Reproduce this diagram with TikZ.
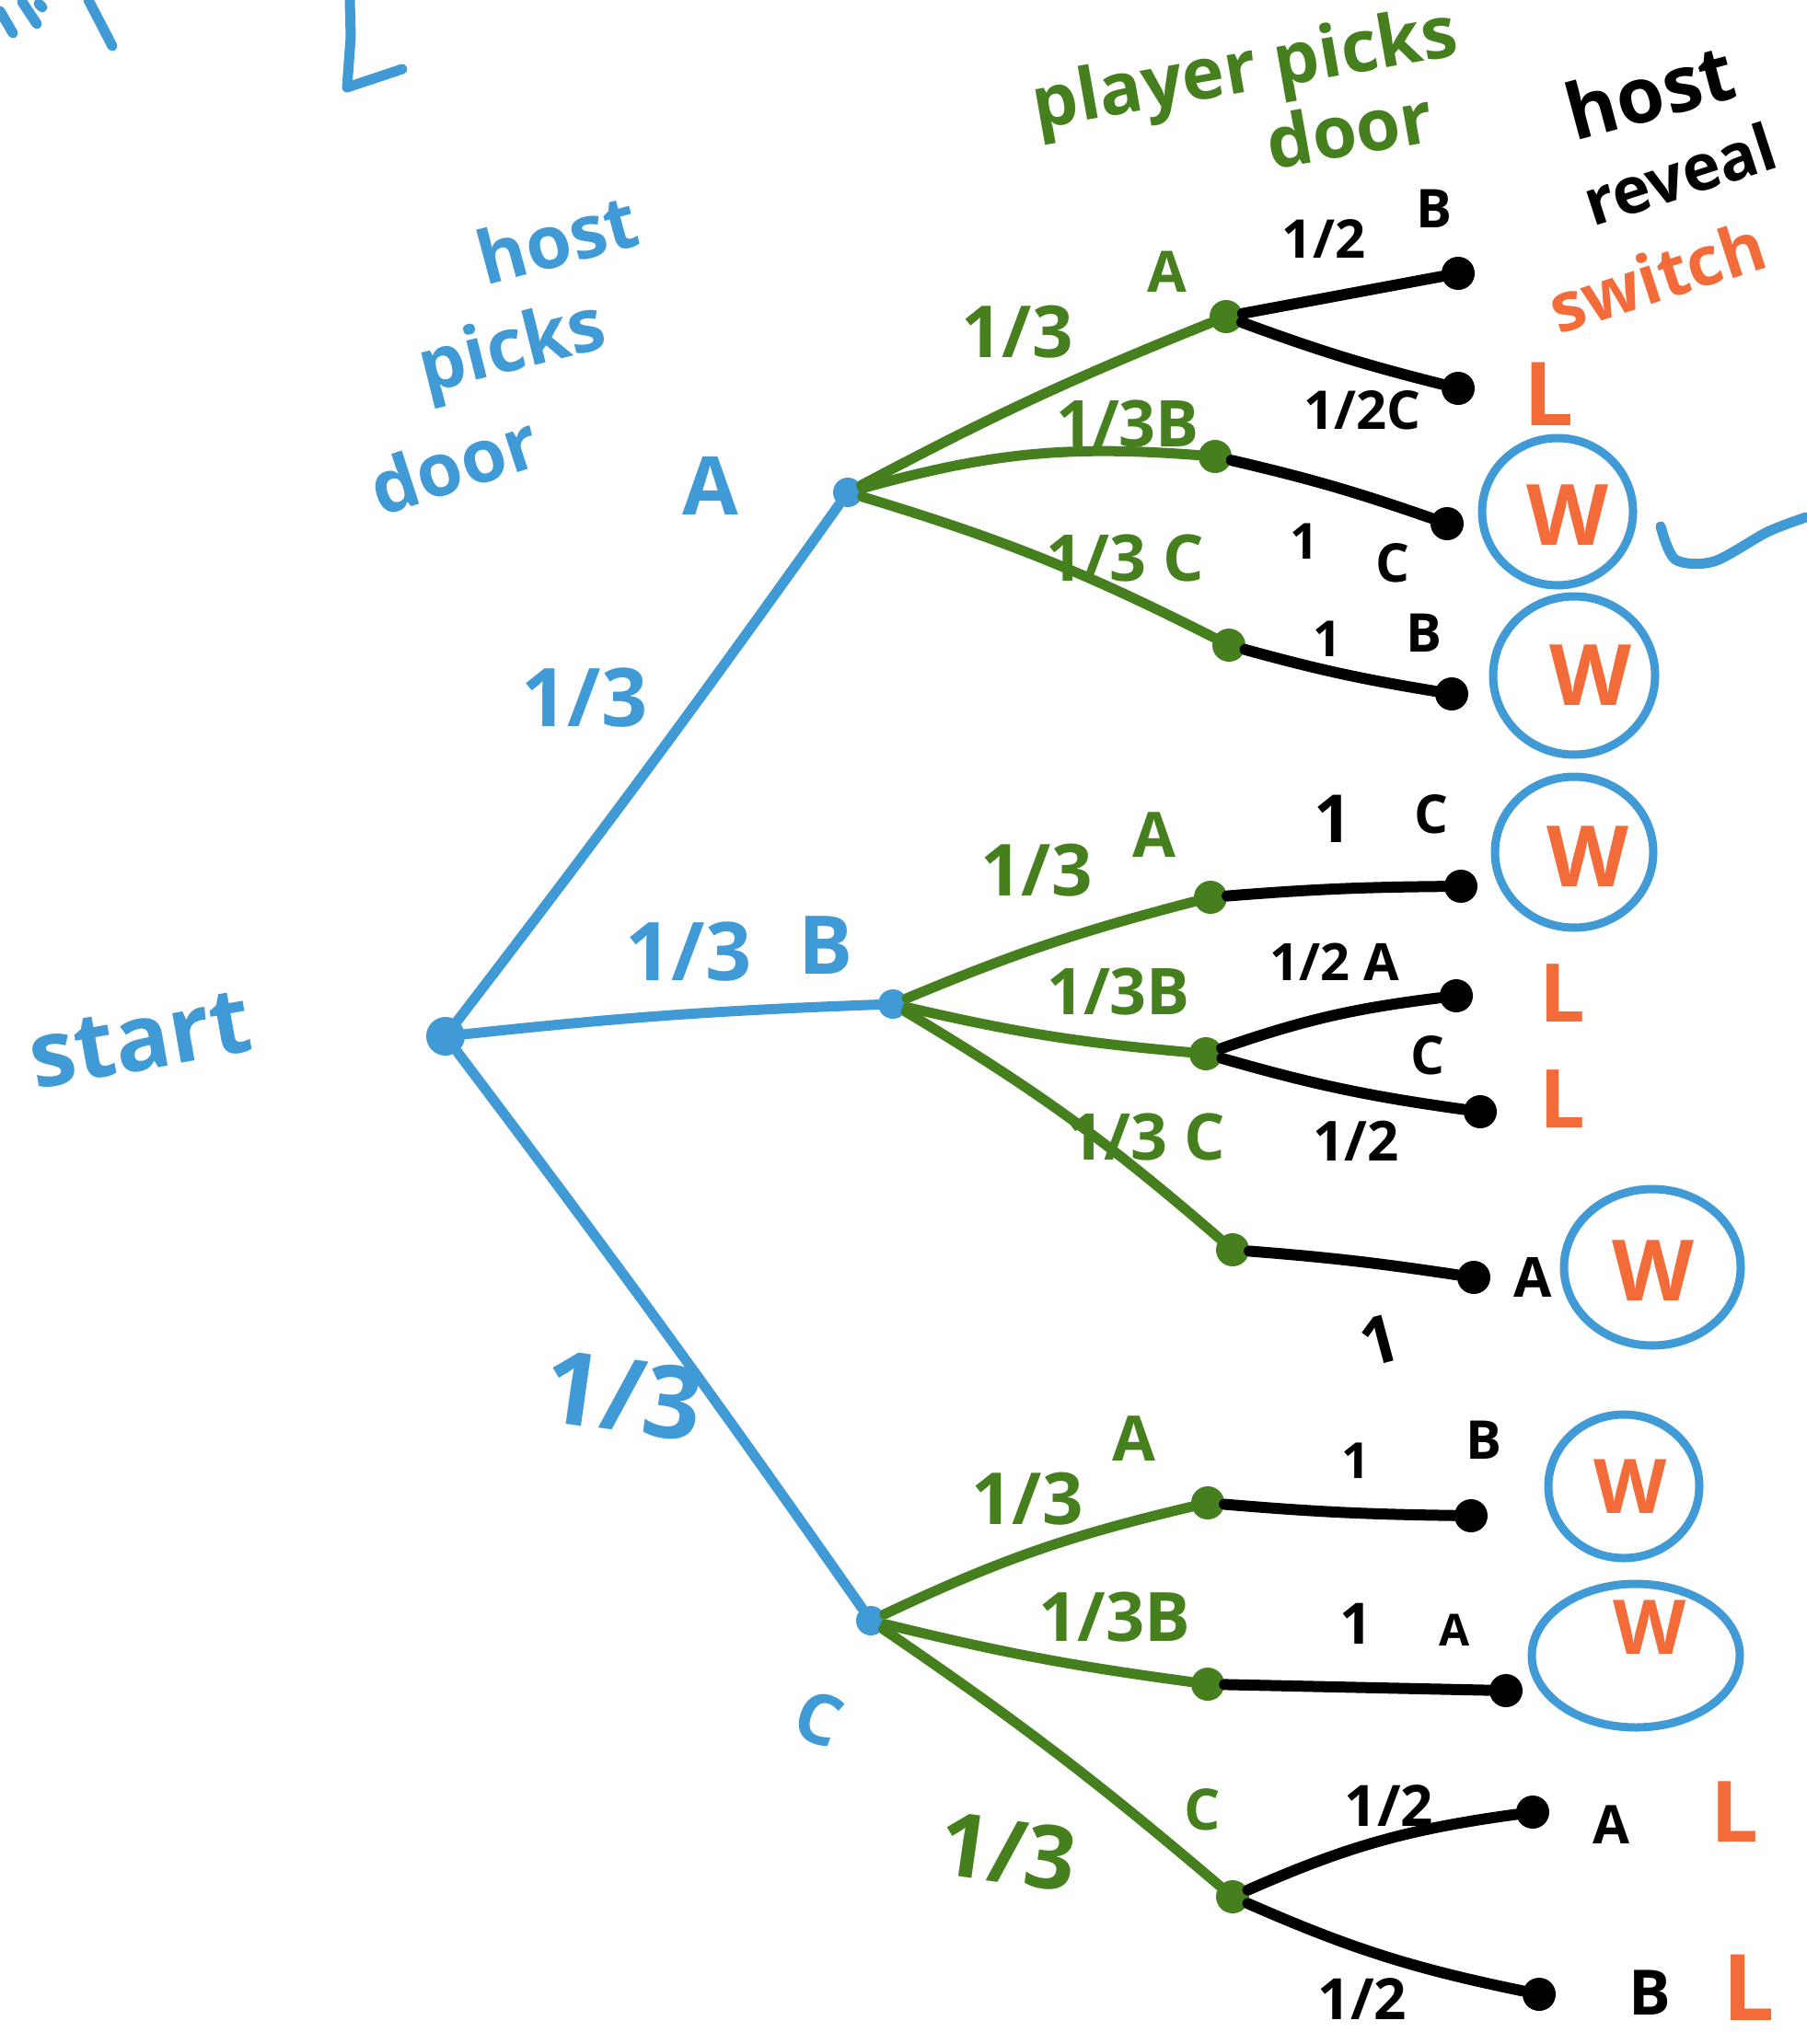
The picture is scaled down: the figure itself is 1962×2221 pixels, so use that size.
\documentclass[tikz,border=0pt]{standalone}
\usepackage{fontspec}
\newfontfamily\hand{Open Sans}
\definecolor{cblue}{HTML}{409AD6}
\definecolor{cgreen}{HTML}{467F1E}
\definecolor{corange}{HTML}{F26B38}
\tikzset{
  bl/.style={draw=cblue, line width=11pt, line cap=round, line join=round},
  gr/.style={draw=cgreen, line width=11pt, line cap=round, line join=round},
  bk/.style={draw=black, line width=12pt, line cap=round, line join=round},
  ring/.style={draw=cblue, line width=9pt},
  bdot/.style={circle, fill=cblue, inner sep=0pt, minimum size=#1},
  bdot/.default=32pt,
  gdot/.style={circle, fill=cgreen, inner sep=0pt, minimum size=36pt},
  kdot/.style={circle, fill=black, inner sep=0pt, minimum size=36pt},
  tb/.style={text=cblue, inner sep=0pt, font=\hand\bfseries\fontsize{#1}{#1}\selectfont},
  tg/.style={text=cgreen, inner sep=0pt, font=\hand\bfseries\fontsize{#1}{#1}\selectfont},
  tk/.style={text=black, inner sep=0pt, font=\hand\bfseries\fontsize{#1}{#1}\selectfont},
  to/.style={text=corange, inner sep=0pt, font=\hand\bfseries\fontsize{#1}{#1}\selectfont},
}
\begin{document}
\begin{tikzpicture}[x=1pt,y=-1pt]
\useasboundingbox (0,0) rectangle (1962,2221);
\fill[white] (0,0) rectangle (1962,2221);

% partial strokes at the top left
\draw[bl] (0,12) -- (14,36);
\draw[bl] (24,2) -- (40,26);
\draw[bl] (42,4) -- (46,8);
\draw[bl] (96,0) -- (122,50);
\draw[bl] (380,0) -- (381,40) -- (377,95) -- (437,75);

% tree nodes
\node[bdot=42pt] (s) at (484,1126) {};
\node[bdot] (hA) at (921,535) {};
\node[bdot] (hB) at (970,1091) {};
\node[bdot] (hC) at (946,1761) {};

\node[gdot] (gAA) at (1332,344) {};
\node[gdot] (gAB) at (1320,496) {};
\node[gdot] (gAC) at (1335,701) {};
\node[gdot] (gBA) at (1315,975) {};
\node[gdot] (gBB) at (1310,1145) {};
\node[gdot] (gBC) at (1339,1358) {};
\node[gdot] (gCA) at (1312,1633) {};
\node[gdot] (gCB) at (1312,1830) {};
\node[gdot] (gCC) at (1339,2061) {};

\node[kdot] (lAAB) at (1584,297) {};
\node[kdot] (lAAC) at (1584,422) {};
\node[kdot] (lAB) at (1572,569) {};
\node[kdot] (lAC) at (1577,754) {};
\node[kdot] (lBA) at (1587,963) {};
\node[kdot] (lBBA) at (1582,1082) {};
\node[kdot] (lBBC) at (1608,1208) {};
\node[kdot] (lBC) at (1601,1388) {};
\node[kdot] (lCA) at (1598,1647) {};
\node[kdot] (lCB) at (1636,1837) {};
\node[kdot] (lCCA) at (1665,1969) {};
\node[kdot] (lCCB) at (1672,2167) {};

% blue edges
\draw[bl] (s) to[bend right=1] (hA);
\draw[bl] (s) to[bend left=2] (hB);
\draw[bl] (s) to[bend left=1] (hC);

% green edges
\draw[gr] (hA) to[bend left=3] (gAA);
\draw[gr] (hA) to[bend left=10] (gAB);
\draw[gr] (hA) to[bend left=5] (gAC);
\draw[gr] (hB) to[bend left=4] (gBA);
\draw[gr] (hB) to[bend right=4] (gBB);
\draw[gr] (hB) to[bend left=5] (gBC);
\draw[gr] (hC) to[bend left=6] (gCA);
\draw[gr] (hC) to[bend right=3] (gCB);
\draw[gr] (hC) to[bend left=3] (gCC);

% black edges
\draw[bk] (gAA) -- (lAAB);
\draw[bk] (gAA) to[bend right=3] (lAAC);
\draw[bk] (gAB) to[bend left=3] (lAB);
\draw[bk] (gAC) to[bend right=3] (lAC);
\draw[bk] (gBA) to[bend left=2] (lBA);
\draw[bk] (gBB) to[bend left=6] (lBBA);
\draw[bk] (gBB) to[bend right=4] (lBBC);
\draw[bk] (gBC) to[bend left=2] (lBC);
\draw[bk] (gCA) to[bend right=2] (lCA);
\draw[bk] (gCB) -- (lCB);
\draw[bk] (gCC) to[bend left=8] (lCCA);
\draw[bk] (gCC) to[bend right=6] (lCCB);

% blue labels
\node[tb=100, rotate=10] (tstart) at (152,1130) {start};
\node[tb=80, rotate=15] (th1) at (605,259) {host};
\node[tb=80, rotate=14] (th2) at (557,382) {picks};
\node[tb=80, rotate=18] (th3) at (493,504) {door};
\node[tb=88] (tbA) at (772,528) {A};
\node[tb=88] (tb13a) at (635,758) {1/3};
\node[tb=88] (tb13b) at (748,1034) {1/3};
\node[tb=88] (tbB) at (897,1027) {B};
\node[tb=110, rotate=-8] (tb13c) at (677,1516) {1/3};
\node[tb=76, rotate=-20] (tbC) at (890,1867) {C};

% green labels
\node[tg=78, rotate=10] (tp1) at (1353,80) {player picks};
\node[tg=78, rotate=10] (tp2) at (1466,140) {door};
\node[tg=78] (tg1) at (1105,361) {1/3};
\node[tg=62] (tg2) at (1268,295) {A};
\node[tg=70] (tg3) at (1225,460) {1/3B};
\node[tg=70] (tg4) at (1222,606) {1/3 C};
\node[tg=78] (tg5) at (1126,946) {1/3};
\node[tg=68] (tg6) at (1254,907) {A};
\node[tg=70] (tg7) at (1215,1077) {1/3B};
\node[tg=70] (tg8) at (1245,1235) {1/3 C};
\node[tg=78] (tg9) at (1116,1629) {1/3};
\node[tg=68] (tg10) at (1232,1563) {A};
\node[tg=74] (tg11) at (1211,1757) {1/3B};
\node[tg=62] (tg12) at (1306,1966) {C};
\node[tg=96, rotate=-8] (tg13) at (1095,2012) {1/3};

% black labels
\node[tk=84, rotate=15] (tk0a) at (1792,99) {host};
\node[tk=70, rotate=18, anchor=west] (tk0b) at (1722,222) {reveal};
\node[tk=58] (tk1) at (1438,259) {1/2};
\node[tk=58] (tk2) at (1558,227) {B};
\node[tk=58] (tk3) at (1480,446) {1/2C};
\node[tk=54] (tk4) at (1417,588) {1};
\node[tk=58] (tk5) at (1513,612) {C};
\node[tk=54] (tk6) at (1442,694) {1};
\node[tk=58] (tk7) at (1547,688) {B};
\node[tk=72] (tk8) at (1448,890) {1};
\node[tk=58] (tk9) at (1555,885) {C};
\node[tk=56] (tk10) at (1450,1045) {1/2 A};
\node[tk=58] (tk11) at (1551,1147) {C};
\node[tk=60] (tk12) at (1473,1240) {1/2};
\node[tk=60] (tk13) at (1665,1388) {A};
\node[tk=72, rotate=15] (tk14) at (1499,1456) {1};
\node[tk=54] (tk15) at (1473,1587) {1};
\node[tk=58] (tk16) at (1612,1565) {B};
\node[tk=62] (tk17) at (1473,1764) {1};
\node[tk=48] (tk18) at (1580,1771) {A};
\node[tk=62] (tk19) at (1509,1962) {1/2};
\node[tk=58] (tk20) at (1750,1983) {A};
\node[tk=62] (tk21) at (1480,2172) {1/2};
\node[tk=68] (tk22) at (1792,2165) {B};

% outcomes
\node[to=74, rotate=18] (tsw) at (1800,300) {switch};
\node[to=96] (oL1) at (1683,428) {L};
\node[to=92] (oW1) at (1703,560) {W};
\node[to=92] (oW2) at (1728,734) {W};
\node[to=92] (oW3) at (1725,931) {W};
\node[to=88] (oL2) at (1697,1079) {L};
\node[to=88] (oL3) at (1697,1194) {L};
\node[to=92] (oW4) at (1796,1381) {W};
\node[to=82] (oW5) at (1771,1615) {W};
\node[to=82] (oW6) at (1792,1768) {W};
\node[to=92] (oL4) at (1884,1969) {L};
\node[to=100] (oL5) at (1900,2160) {L};

% circles around W
\draw[ring] (1692,556) ellipse [x radius=82, y radius=80];
\draw[ring] (1710,734) ellipse [x radius=88, y radius=86];
\draw[ring] (1710,926) ellipse [x radius=86, y radius=82];
\draw[ring] (1795,1377) ellipse [x radius=96, y radius=85];
\draw[ring] (1764,1615) ellipse [x radius=82, y radius=78];
\draw[ring] (1777,1799) ellipse [x radius=113, y radius=78];

% blue squiggle
\draw[bl] plot[smooth] coordinates {(1804,572) (1820,608) (1862,610) (1920,578) (1962,562)};
\end{tikzpicture}
\end{document}
